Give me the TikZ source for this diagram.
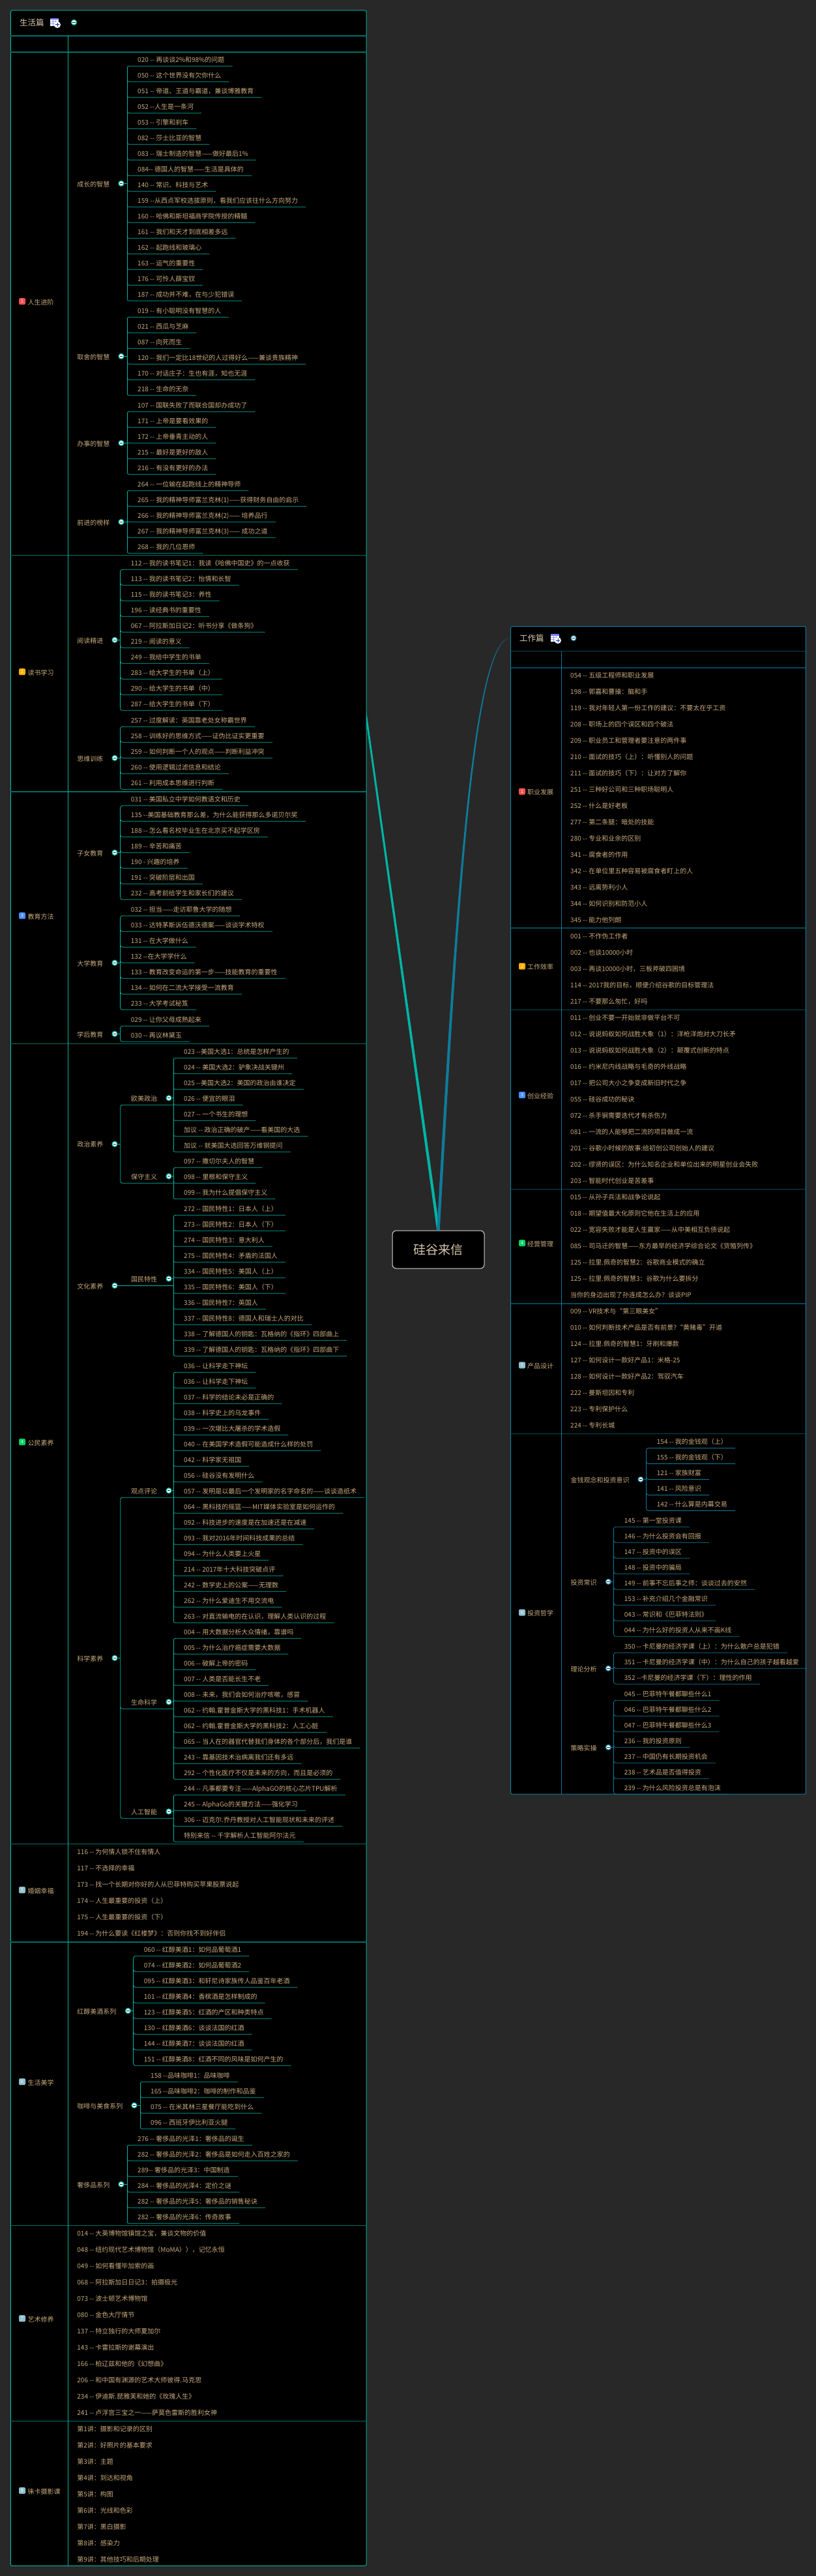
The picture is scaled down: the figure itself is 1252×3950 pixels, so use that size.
\documentclass[tikz,border=0pt]{standalone}
\usepackage{fontspec}
\newfontfamily\cjk{Noto Sans CJK SC}
\definecolor{bgc}{HTML}{282828}
\definecolor{txt}{HTML}{C8AA7C}
\definecolor{headtxt}{HTML}{D8C8AC}
\definecolor{teal1}{HTML}{00B5A5}
\definecolor{teal2}{HTML}{006F66}
\definecolor{blue1}{HTML}{0E7C9B}
\definecolor{blue2}{HTML}{00485C}
\definecolor{ic1}{HTML}{F25050}
\definecolor{ic2}{HTML}{FFB000}
\definecolor{ic3}{HTML}{4A8CFF}
\definecolor{ic4}{HTML}{00D060}
\definecolor{ic5}{HTML}{8FC0CC}
\colorlet{mm}{teal1}
\colorlet{mmdark}{teal2}
\tikzset{
  leaf/.style={inner sep=0pt,text height=8.8pt,text depth=1.2pt,text=txt,anchor=west,font=\cjk\fontsize{10}{12}\selectfont},
  headlabel/.style={inner sep=0pt,text=headtxt,anchor=west,font=\cjk\fontsize{12.5}{14}\selectfont},
  conn/.style={draw=mm,line width=.8pt},
  sepline/.style={draw=mmdark,line width=1.5pt},
  panelframe/.style={draw=mm,line width=1pt,fill=black,rounded corners=2pt},
  foldmark/.style={circle,draw=mm,line width=1.2pt,fill=white,minimum size=8pt,inner sep=0pt},
  numicon/.style={rounded corners=1.5pt,minimum size=10pt,inner sep=0pt,text=white,font=\cjk\fontsize{7}{8}\selectfont},
  hubnode/.style={draw=white!85!black,line width=1pt,fill=black,rounded corners=6pt,minimum width=141pt,minimum height=58pt,text=headtxt,font=\cjk\fontsize{19}{22}\selectfont}
}
% id, trunk x, first underline y, count, list
\newcommand{\LeafGroup}[5]{%
  \pgfmathsetmacro\midy{#3+(#4-1)*12}%
  \coordinate (#1-mid) at (#2,\midy);
  \foreach \lt [count=\ii] in {#5}{%
    \pgfmathsetmacro\yy{#3+(\ii-1)*24}%
    \pgfmathsetmacro\hookdy{\ii==1?3:-3}%
    \node[leaf] (#1-\ii) at (#2+16,\yy-9.6) {\lt};
    \coordinate (#1-\ii-s) at (#2,\yy);
    \draw[conn,rounded corners=3pt] (#1-\ii-s) ++(0,\hookdy) -- (#1-\ii-s) -- ([xshift=12pt]#1-\ii.east |- #1-\ii-s);
  }
  \draw[conn] (#2,#3+3) -- (#2,#3+#4*24-24-3);
}
\newcommand{\FoldAt}[3]{%
  \node[foldmark] (#1) at (#2,#3) {};
  \draw[draw=black!75!mm,line width=.9pt] ([xshift=-2.2pt]#1.center) -- ([xshift=2.2pt]#1.center);
}
% id,label,labelx,foldx,trunkx,first,count,list : label and fold on the trunk middle
\newcommand{\Branch}[8]{%
  \LeafGroup{#1}{#5}{#6}{#7}{#8}
  \pgfmathsetmacro\midb{#6+(#7-1)*12}%
  \node[leaf] (#1-lab) at (#3,\midb+1.3) {#2};
  \FoldAt{#1-fold}{#4}{\midb}
  \draw[conn] (#1-fold) -- (#1-mid);
}
% id,label,first,count,list : third level of the left panel, label above its underline
\newcommand{\SubBranch}[5]{%
  \LeafGroup{#1}{266}{#3}{#4}{#5}
  \pgfmathsetmacro\midb{#3+(#4-1)*12}%
  \node[leaf] (#1-lab) at (201,\midb-9.6) {#2};
  \FoldAt{#1-fold}{259}{\midb-10.6}
  \draw[conn] (#1-fold) -- (#1-fold -| #1-mid);
}
% id,x,first centre y,list
\newcommand{\FlatList}[4]{%
  \foreach \lt [count=\ii] in {#4}{%
    \pgfmathsetmacro\yy{#3+(\ii-1)*25}%
    \node[leaf] (#1-\ii) at (#2,\yy) {\lt};
  }
}
% id,colour,digit,label,icon x,label x,y
\newcommand{\TopLabel}[7]{%
  \node[numicon,fill=#2] (#1-icon) at (#5,#7-1.3) {#3};
  \node[leaf] (#1) at (#6,#7) {#4};
}
\newcommand{\TableIcon}[2]{%
  \begin{scope}[shift={(#1,#2)}]
    \fill[white] (0,0) rectangle (13,12);
    \fill[blue!55!white] (0,0) rectangle (13,2.5);
    \draw[blue!40!white,line width=.4pt] (0,5.5) -- (13,5.5) (0,8.5) -- (13,8.5) (4.3,0) -- (4.3,12) (8.6,0) -- (8.6,12);
    \fill[white] (11,10) circle (5);
    \draw[blue!70!black!80!cyan,line width=1pt] (8,10) -- (14,10) (11,7) -- (11,13);
  \end{scope}
}
\begin{document}
\begin{tikzpicture}[x=1pt,y=-1pt]
\useasboundingbox (0,0) rectangle (1252,3950);
\fill[bgc] (0,0) rectangle (1252,3950);

\node[hubnode] (hub) at (672.5,1916) {硅谷来信};
\coordinate (leftend) at (506,700);
\coordinate (rightend) at (783.7,978);

% tapered branches from the hub
\fill[teal1] ([xshift=-2.2pt]hub.north) -- ([xshift=-1pt]leftend) -- ([xshift=1pt]leftend) -- ([xshift=2.2pt]hub.north) -- cycle;
\fill[blue1] ([xshift=-2.2pt]hub.north) .. controls (698,1400) and (724,977.5) .. (rightend)
  .. controls (726,978.5) and (702,1400) .. ([xshift=2.2pt]hub.north) -- cycle;

%%%%%%%%%%%%%%%%%%%% LEFT PANEL
\draw[panelframe] (16.4,16) rectangle (562,3934.3);
\foreach \sy in {55,80,851.7,1214,1600.7,2827.7,2978,3412.7,3712.7}{\draw[sepline] (16.4,\sy) -- (562,\sy);}
\draw[conn] (104.4,55) -- (104.4,3934.3);
\node[headlabel] (lefthead) at (30,35) {生活篇};
\TableIcon{77}{28}
\FoldAt{lefthead-fold}{113.5}{34.3}

\TopLabel{t1}{ic1}{1}{人生进阶}{34}{42.5}{463.3}
\Branch{a1}{成长的智慧}{118.2}{186}{195}{101.3}{16}{020 -- 再谈谈2\%和98\%的问题,050 -- 这个世界没有欠你什么,051 -- 帝道、王道与霸道，兼谈博雅教育,052 --人生是一条河,053 -- 引擎和刹车,082 -- 莎士比亚的智慧,083 -- 瑞士制造的智慧——做好最后1\%,084-- 德国人的智慧——生活是具体的,140 -- 常识、科技与艺术,159 --从西点军校选拔原则，看我们应该往什么方向努力,160 -- 哈佛和斯坦福商学院传授的精髓,161 -- 我们和天才到底相差多远,162 -- 起跑线和玻璃心,163 -- 运气的重要性,176 -- 可怜人薛宝钗,187 -- 成功并不难，在与少犯错误}
\Branch{a2}{取舍的智慧}{118.2}{186}{195}{486.3}{6}{019 -- 有小聪明没有智慧的人,021 -- 西瓜与芝麻,087 -- 向死而生,120 -- 我们一定比18世纪的人过得好么——兼谈贵族精神,170 -- 对话庄子：生也有涯，知也无涯,218 -- 生命的无奈}
\Branch{a3}{办事的智慧}{118.2}{186}{195}{631.3}{5}{107 -- 国联失败了而联合国却办成功了,171 -- 上帝是要看效果的,172 -- 上帝垂青主动的人,215 -- 最好是更好的敌人,216 -- 有没有更好的办法}
\Branch{a4}{前进的榜样}{118.2}{186}{195}{752.3}{5}{264 -- 一位输在起跑线上的精神导师,265 -- 我的精神导师富兰克林(1)——获得财务自由的启示,266 -- 我的精神导师富兰克林(2)—— 培养品行,267 -- 我的精神导师富兰克林(3)—— 成功之道,268 -- 我的几位恩师}

\TopLabel{t2}{ic2}{2}{读书学习}{34}{42.5}{1031.3}
\Branch{b1}{阅读精进}{118.2}{176}{184.7}{873.3}{10}{112 -- 我的读书笔记1：我读《哈佛中国史》的一点收获,113 -- 我的读书笔记2：怡情和长智,115 -- 我的读书笔记3：养性,196 -- 读经典书的重要性,067 -- 阿拉斯加日记2：听书分享《做条狗》,219 -- 阅读的意义,249 -- 我给中学生的书单,283 -- 给大学生的书单（上）,290 -- 给大学生的书单（中）,287 -- 给大学生的书单（下）}
\Branch{b2}{思维训练}{118.2}{176}{184.7}{1114.3}{5}{257 -- 过度解读：英国靠老处女称霸世界,258 -- 训练好的思维方式——证伪比证实更重要,259 -- 如何判断一个人的观点——判断利益冲突,260 -- 使用逻辑过滤信息和结论,261 -- 利用成本思维进行判断}

\TopLabel{t3}{ic3}{3}{教育方法}{34}{42.5}{1405.3}
\Branch{c1}{子女教育}{118.2}{176}{184.7}{1235.3}{7}{031 -- 美国私立中学如何教语文和历史,135 --美国基础教育那么差，为什么能获得那么多诺贝尔奖,188 -- 怎么看名校毕业生在北京买不起学区房,189 -- 辛苦和痛苦,190 - 兴趣的培养,191 -- 突破阶层和出国,232 -- 高考前给学生和家长们的建议}
\Branch{c2}{大学教育}{118.2}{176}{184.7}{1404.3}{7}{032 -- 担当——走访耶鲁大学的随想,033 -- 达特茅斯诉伍德沃德案——谈谈学术特权,131 -- 在大学做什么,132 --在大学学什么,133 -- 教育改变命运的第一步——技能教育的重要性,134 -- 如何在二流大学接受一流教育,233 -- 大学考试秘笈}
\Branch{c3}{学后教育}{118.2}{176}{184.7}{1573.3}{2}{029 -- 让你父母成熟起来,030 -- 再议林黛玉}

\TopLabel{t4}{ic4}{4}{公民素养}{34}{42.5}{2212.3}
\SubBranch{d1}{欧美政治}{1622.3}{7}{023 --美国大选1：总统是怎样产生的,024 -- 美国大选2：驴象决战关键州,025 --美国大选2：美国的政治由谁决定,026 -- 便宜的眼泪,027 -- 一个书生的理想,加议 -- 政治正确的破产——看美国的大选,加议 -- 就美国大选回答万维钢提问}
\SubBranch{d2}{保守主义}{1790.3}{3}{097 -- 撒切尔夫人的智慧,098 -- 里根和保守主义,099 -- 我为什么提倡保守主义}
\node[leaf] (dp-lab) at (118.2,1755) {政治素养};
\FoldAt{dp-fold}{176}{1754.3}
\coordinate (dp-t) at (184.7,1754.3);
\draw[conn] (dp-fold) -- (dp-t);
\draw[conn,rounded corners=3pt] (d1-mid) -- (d1-mid -| dp-t) -- (d2-mid -| dp-t) -- (d2-mid);

\SubBranch{e1}{国民特性}{1863.3}{10}{272 -- 国民特性1：日本人（上）,273 -- 国民特性2：日本人（下）,274 -- 国民特性3：意大利人,275 -- 国民特性4：矛盾的法国人,334 -- 国民特性5：美国人（上）,335 -- 国民特性6：美国人（下）,336 -- 国民特性7：英国人,337 -- 国民特性8：德国人和瑞士人的对比,338 -- 了解德国人的钥匙：瓦格纳的《指环》四部曲上,339 -- 了解德国人的钥匙：瓦格纳的《指环》四部曲下}
\node[leaf] (ep-lab) at (118.2,1972.3) {文化素养};
\FoldAt{ep-fold}{176}{1971.3}
\draw[conn] (ep-fold) -- (e1-mid);

\SubBranch{f1}{观点评论}{2104.3}{17}{036 -- 让科学走下神坛,036 -- 让科学走下神坛,037 -- 科学的结论未必是正确的,038 -- 科学史上的乌龙事件,039 -- 一次堪比大屠杀的学术造假,040 -- 在美国学术造假可能造成什么样的处罚,042 -- 科学家无祖国,056 -- 硅谷没有发明什么,057 -- 发明是以最后一个发明家的名字命名的——谈谈造纸术,064 -- 黑科技的摇篮——MIT媒体实验室是如何运作的,092 -- 科技进步的速度是在加速还是在减速,093 -- 我对2016年时间科技成果的总结,094 -- 为什么人类要上火星,214 -- 2017年十大科技突破点评,242 -- 数学史上的公案——无理数,262 -- 为什么爱迪生不用交流电,263 -- 对直流输电的在认识，理解人类认识的过程}
\SubBranch{f2}{生命科学}{2512.3}{10}{004 -- 用大数据分析大众情绪，靠谱吗,005 -- 为什么治疗癌症需要大数据,006 -- 破解上帝的密码,007 -- 人类是否能长生不老,008 -- 未来，我们会如何治疗咳嗽，感冒,062 -- 约翰.霍普金斯大学的黑科技1：手术机器人,062 -- 约翰.霍普金斯大学的黑科技2：人工心脏,065 -- 当人在的器官代替我们身体的各个部分后，我们是谁,243 -- 靠基因技术治病离我们还有多远,292 -- 个性化医疗不仅是未来的方向，而且是必须的}
\SubBranch{f3}{人工智能}{2752.3}{4}{244 -- 凡事都要专注——AlphaGO的核心芯片TPU解析,245 -- AlphaGo的关键方法——强化学习,306 -- 迈克尔.乔丹教授对人工智能现状和未来的评述,特别来信 -- 千字解析人工智能阿尔法元}
\node[leaf] (fp-lab) at (118.2,2543.3) {科学素养};
\FoldAt{fp-fold}{176}{2542.3}
\coordinate (fp-t) at (184.7,2542.3);
\draw[conn] (fp-fold) -- (fp-t);
\draw[conn,rounded corners=3pt] (f1-mid) -- (f1-mid -| fp-t) -- (f3-mid -| fp-t) -- (f3-mid);
\draw[conn,rounded corners=3pt] ([yshift=3pt]f2-mid -| fp-t) -- (f2-mid -| fp-t) -- (f2-mid);

\TopLabel{t5}{ic5}{5}{婚姻幸福}{34}{42.5}{2899.3}
\FlatList{g}{118.2}{2839.3}{116 -- 为何情人锁不住有情人,117 -- 不选择的幸福,173 -- 找一个长期对你好的人从巴菲特购买苹果股票说起,174 -- 人生最重要的投资（上）,175 -- 人生最重要的投资（下）,194 -- 为什么要读《红楼梦》：否则你找不到好伴侣}

\TopLabel{t6}{ic5}{6}{生活美学}{34}{42.5}{3193.3}
\Branch{h1}{红醇美酒系列}{118.2}{196.4}{204.7}{2999.3}{8}{060 -- 红醇美酒1：如何品葡萄酒1,074 -- 红醇美酒2：如何品葡萄酒2,095 -- 红醇美酒3：和轩尼诗家族传人品鉴百年老酒,101 -- 红醇美酒4：香槟酒是怎样制成的,123 -- 红醇美酒5：红酒的产区和种类特点,130 -- 红醇美酒6：谈谈法国的红酒,144 -- 红醇美酒7：谈谈法国的红酒,151 -- 红醇美酒8：红酒不同的风味是如何产生的}
\Branch{h2}{咖啡与美食系列}{118.2}{206}{215}{3192.3}{4}{158 --品味咖啡1：品味咖啡,165 --品味咖啡2：咖啡的制作和品鉴,075 -- 在米其林三星餐厅能吃到什么,096 -- 西班牙伊比利亚火腿}
\Branch{h3}{奢侈品系列}{118.2}{186}{195}{3289.3}{6}{276 -- 奢侈品的光泽1：奢侈品的诞生,282 -- 奢侈品的光泽2：奢侈品是如何走入百姓之家的,289-- 奢侈品的光泽3：中国制造,284 -- 奢侈品的光泽4：定价之谜,282 -- 奢侈品的光泽5：奢侈品的销售秘诀,282 -- 奢侈品的光泽6：传奇故事}

\TopLabel{t7}{ic5}{7}{艺术修养}{34}{42.5}{3556.3}
\FlatList{k}{118.2}{3424.3}{014 -- 大英博物馆镇馆之宝，兼谈文物的价值,048 -- 纽约现代艺术博物馆（MoMA）），记忆永恒,049 -- 如何看懂毕加索的画,068 -- 阿拉斯加日日记3：拍摄极光,073 -- 波士顿艺术博物馆,080 -- 金色大厅情节,137 -- 特立独行的大师夏加尔,143 -- 卡雷拉斯的谢幕演出,166 -- 柏辽兹和他的《幻想曲》,206 -- 和中国有渊源的艺术大师彼得.马克思,234 -- 伊迪斯.琵雅芙和她的《玫瑰人生》,241 -- 卢浮宫三宝之一——萨莫色雷斯的胜利女神}

\TopLabel{t8}{ic5}{8}{徕卡摄影课}{34}{42.5}{3820.3}
\FlatList{m}{118.2}{3724.3}{第1讲：摄影和记录的区别,第2讲：好照片的基本要求,第3讲：主题,第4讲：到达和视角,第5讲：构图,第6讲：光线和色彩,第7讲：黑白摄影,第8讲：感染力,第9讲：其他技巧和后期处理}

%%%%%%%%%%%%%%%%%%%% RIGHT PANEL
\colorlet{mm}{blue1}
\colorlet{mmdark}{blue2}
\draw[panelframe] (783.7,960.7) rectangle (1236.3,2751);
\foreach \sy in {998.6,1024,1423,1548.4,1823.7,1999,2198.6}{\draw[sepline] (783.7,\sy) -- (1236.3,\sy);}
\draw[conn] (861.4,998.6) -- (861.4,2751);
\node[headlabel] (righthead) at (797,979) {工作篇};
\TableIcon{845}{972}
\FoldAt{righthead-fold}{880}{978.5}

\TopLabel{w1}{ic1}{1}{职业发展}{801}{809}{1215}
\FlatList{n}{875}{1035.4}{054 -- 五级工程师和职业发展,198 -- 郭嘉和曹操：脑和手,119 -- 我对年轻人第一份工作的建议：不要太在乎工资,208 -- 职场上的四个误区和四个破法,209 -- 职业员工和管理者要注意的两件事,210 -- 面试的技巧（上）：听懂别人的问题,211 -- 面试的技巧（下）：让对方了解你,251 -- 三种好公司和三种职场聪明人,252 -- 什么是好老板,277 -- 第二条腿：暗处的技能,280 -- 专业和业余的区别,341 -- 腐食者的作用,342 -- 在单位里五种容易被腐食者盯上的人,343 -- 远离势利小人,344 -- 如何识别和防范小人,345 -- 能力他列朗}
\TopLabel{w2}{ic2}{2}{工作效率}{801}{809}{1483}
\FlatList{p}{875}{1435.4}{001 -- 不作伪工作者,002 -- 也谈10000小时,003 -- 再谈10000小时，三板斧破四困境,114 -- 2017我的目标，顺便介绍谷歌的目标管理法,217 -- 不要那么匆忙，好吗}
\TopLabel{w3}{ic3}{3}{创业经验}{801}{809}{1680.5}
\FlatList{q}{875}{1560.4}{011 -- 创业不要一开始就非做平台不可,012 -- 说说蚂蚁如何战胜大象（1）：洋枪洋炮对大刀长矛,013 -- 说说蚂蚁如何战胜大象（2）：颠覆式创新的特点,016 -- 约米尼内线战略与毛奇的外线战略,017 -- 把公司大小之争变成新旧时代之争,055 -- 硅谷成功的秘诀,072 -- 杀手锏需要迭代才有杀伤力,081 -- 一流的人能够把二流的项目做成一流,201 -- 谷歌小时候的故事:给初创公司创始人的建议,202 -- 缪贤的误区：为什么知名企业和单位出来的明星创业会失败,203 -- 智能时代创业是苦差事}
\TopLabel{w4}{ic4}{4}{经营管理}{801}{809}{1907.5}
\FlatList{r}{875}{1835.4}{015 -- 从孙子兵法和战争论说起,018 -- 期望值最大化原则它他在生活上的应用,022 -- 宽容失败才能是人生赢家——从中美相互负债说起,085 -- 司马迁的智慧——东方最早的经济学综合论文《货殖列传》,125 -- 拉里.佩奇的智慧2：谷歌商业模式的确立,125 -- 拉里.佩奇的智慧3：谷歌为什么要拆分,当你的身边出现了孙连成怎么办？谈谈PIP}
\TopLabel{w5}{ic5}{5}{产品设计}{801}{809}{2094.6}
\FlatList{s}{875}{2010.4}{009 -- VR技术与“第三眼美女”,010 -- 如何判断技术产品是否有前景?“黄赌毒”开道,124 -- 拉里.佩奇的智慧1：牙刷和爆款,127 -- 如何设计一款好产品1：米格-25,128 -- 如何设计一款好产品2：驾驭汽车,222 -- 曼斯坦因和专利,223 -- 专利保护什么,224 -- 专利长城}
\TopLabel{w6}{ic5}{6}{投资哲学}{801}{809}{2474}
\Branch{u1}{金钱观念和投资意识}{875.3}{983}{991.7}{2220.4}{5}{154 -- 我的金钱观（上）,155 -- 我的金钱观（下）,121 -- 家族财富,141 -- 风险意识,142 -- 什么算是内幕交易}
\Branch{u2}{投资常识}{875.3}{933.3}{941.7}{2341.3}{8}{145 -- 第一堂投资课,146 -- 为什么投资会有回报,147 -- 投资中的误区,148 -- 投资中的骗局,149 -- 前事不忘后事之师：谈谈过去的安然,153 -- 补充介绍几个金融常识,043 -- 常识和《巴菲特法则》,044 -- 为什么好的投资人从来不画K线}
\Branch{u3}{理论分析}{875.3}{933.3}{941.7}{2534.2}{3}{350 -- 卡尼曼的经济学课（上）：为什么散户总是犯错,351 -- 卡尼曼的经济学课（中）：为什么自己的孩子越看越爱,352 --卡尼曼的经济学课（下）：理性的作用}
\Branch{u4}{策略实操}{875.3}{933.3}{941.7}{2607.3}{7}{045 -- 巴菲特午餐都聊些什么1,046 -- 巴菲特午餐都聊些什么2,047 -- 巴菲特午餐都聊些什么3,236 -- 我的投资原则,237 -- 中国仍有长期投资机会,238 -- 艺术品是否值得投资,239 -- 为什么风险投资总是有泡沫}
\end{tikzpicture}
\end{document}
